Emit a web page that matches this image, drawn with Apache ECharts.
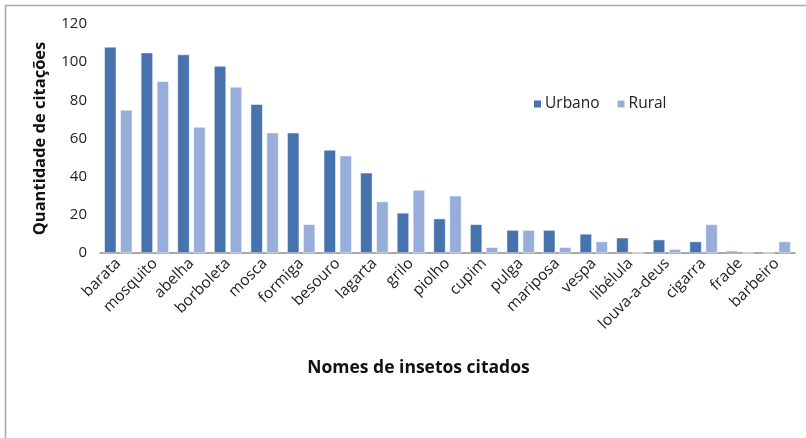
<!DOCTYPE html>
<html><head><meta charset="utf-8">
<script src="https://cdn.jsdelivr.net/npm/echarts@6/dist/echarts.min.js"></script>
<style>html,body{margin:0;padding:0;background:#fff}#c{width:806px;height:438px}</style>
</head><body><div id="c"></div>
<script>
const categories = ['barata','mosquito','abelha','borboleta','mosca','formiga','besouro','lagarta','grilo','piolho','cupim','pulga','mariposa','vespa','libélula','louva-a-deus','cigarra','frade','barbeiro'];
const urbano = [108,105,104,98,78,63,54,42,21,18,15,12,12,10,8,7,6,1,0];
const rural  = [75,90,66,87,63,15,51,27,33,30,3,12,3,6,0,2,15,0,6];
const yTicks = [0,20,40,60,80,100,120];

const FONT = '"Open Sans", "Liberation Sans", sans-serif';
const chart = echarts.init(document.getElementById('c'));
chart.setOption({
  animation: false,
  backgroundColor: '#fff',
  graphic: [{type:'rect', shape:{x:5.5,y:5.5,width:900,height:500}, style:{fill:'none', stroke:'#a6a6a6', lineWidth:1.5}, silent:true}],
  grid: {left: 100, right: 11, top: 24, bottom: 185},
  legend: {
    data: ['Urbano','Rural'], left: 527, top: 91, itemWidth: 9, itemHeight: 9, itemGap: 16,
    icon: 'rect', textStyle: {fontFamily: FONT, fontSize: 15.5, color: '#222', padding:[0,0,0,-2]}
  },
  xAxis: {
    type: 'category', data: categories,
    name: 'Nomes de insetos citados', nameLocation: 'middle', nameGap: 106,
    nameTextStyle: {fontFamily: FONT, fontSize: 17.5, fontWeight: 'bold', color: '#111', padding: [0, 58, 0, 0]},
    axisLine: {lineStyle: {color: '#8c8c8c', width: 1.5}},
    axisTick: {show: false},
    axisLabel: {rotate: 45, interval: 0, fontFamily: FONT, fontSize: 15.5, color: '#222', margin: 8}
  },
  yAxis: {
    type: 'value', min: 0, max: 120, interval: 20,
    name: 'Quantidade de citações', nameLocation: 'middle', nameGap: 51,
    nameTextStyle: {fontFamily: FONT, fontSize: 16.5, fontWeight: 'bold', color: '#111'},
    axisLine: {show: false}, axisTick: {show: false}, splitLine: {show: false},
    axisLabel: {fontFamily: FONT, fontSize: 15, color: '#222', margin: 13,
      formatter: v => yTicks.includes(v) ? String(v) : ''}
  },
  series: [
    {name: 'Urbano', type: 'bar', data: urbano, barWidth: 12, barGap: '33%',
     itemStyle: {color: '#4672AE', borderColor: '#ffffff', borderWidth: 0.5}},
    {name: 'Rural', type: 'bar', data: rural, barWidth: 12,
     itemStyle: {color: '#98AEDA', borderColor: '#ffffff', borderWidth: 0.5}}
  ]
});
</script></body></html>
